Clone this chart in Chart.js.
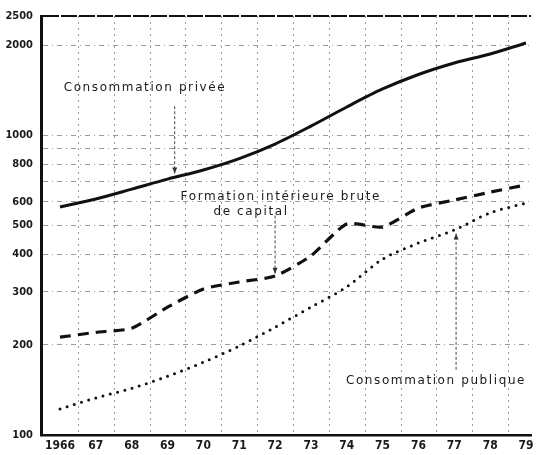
<!DOCTYPE html>
<html><head><meta charset="utf-8">
<script src="https://cdn.jsdelivr.net/npm/chart.js@4/dist/chart.umd.min.js"></script>
<style>html,body{margin:0;padding:0;background:#fff}#wrap{width:541px;height:455px}</style>
</head><body><div id="wrap"><canvas id="c" width="541" height="455"></canvas></div>
<script>
// ---- data ----
const years = [1966,1967,1968,1969,1970,1971,1972,1973,1974,1975,1976,1977,1978,1979];
const yearLabels = ['1966','67','68','69','70','71','72','73','74','75','76','77','78','79'];
const privee = [576,613,661,714,766,836,935,1073,1243,1427,1595,1742,1867,2032];
const formation = [212,220,227,267,307,324,339,396,506,494,572,608,646,683];
const publique = [122,133,143,157,175,198,229,267,312,386,437,483,551,594];
const yTickValues = [100,200,300,400,500,600,700,800,900,1000,2000,2500];
const yTickLabels = ['100','200','300','400','500','600','','800','','1000','2000','2500'];
const xGridValues = [1966.5,1967.5,1968.5,1969.5,1970.5,1971.5,1972.5,1973.5,1974.5,1975.5,1976.5,1977.5,1978.5];
const seriesNames = ['Consommation privée','Formation intérieure brute de capital','Consommation publique'];
// annotation texts anchored in data coordinates [year, value]
const notes = [
  {text:'Consommation privée', at:[1968.37,1437]},
  {text:'Formation intérieure brute', at:[1972.16,622]},
  {text:'de capital', at:[1971.33,554]},
  {text:'Consommation publique', at:[1976.49,151]}
];
// arrows: from [year,value] to [year,value]
const arrows = [
  {from:[1969.2,1250], to:[1969.2,745]},
  {from:[1972.0,540], to:[1972.0,345]},
  {from:[1977.05,165], to:[1977.05,470]}
];

const pts = arr => arr.map((v,i)=>({x:years[i], y:v}));

const decor = {
  id:'decor',
  beforeDatasetsDraw(chart){
    const {ctx, chartArea:a, scales:{x}} = chart;
    ctx.save();
    ctx.strokeStyle = '#9a9a9a';
    ctx.lineWidth = 1;
    ctx.setLineDash([2,4]);
    xGridValues.forEach(v=>{
      const px = Math.round(x.getPixelForValue(v))+0.5;
      ctx.beginPath(); ctx.moveTo(px,a.top); ctx.lineTo(px,a.bottom); ctx.stroke();
    });
    ctx.restore();
  },
  afterDatasetsDraw(chart){
    const {ctx, scales:{x,y}} = chart;
    ctx.save();
    ctx.fillStyle = '#1a1a1a';
    ctx.font = '12px "DejaVu Sans"';
    try{ ctx.letterSpacing = '1.6px'; }catch(e){}
    ctx.textAlign = 'center';
    ctx.textBaseline = 'middle';
    notes.forEach(n=>{
      ctx.fillText(n.text, x.getPixelForValue(n.at[0]), y.getPixelForValue(n.at[1]));
    });
    ctx.strokeStyle = '#444';
    ctx.fillStyle = '#333';
    ctx.lineWidth = 1;
    ctx.setLineDash([3,2]);
    arrows.forEach(ar=>{
      const x1 = x.getPixelForValue(ar.from[0]), y1 = y.getPixelForValue(ar.from[1]);
      const x2 = x.getPixelForValue(ar.to[0]), y2 = y.getPixelForValue(ar.to[1]);
      ctx.beginPath(); ctx.moveTo(x1,y1); ctx.lineTo(x2,y2); ctx.stroke();
      const dir = Math.sign(y2-y1);
      ctx.beginPath();
      ctx.moveTo(x2,y2); ctx.lineTo(x2-2.5,y2-dir*6); ctx.lineTo(x2+2.5,y2-dir*6); ctx.closePath(); ctx.fill();
    });
    ctx.restore();
  }
};

new Chart(document.getElementById('c'), {
  type:'line',
  data:{datasets:[
    {label:seriesNames[0], data:pts(privee), borderColor:'#111', borderWidth:3, tension:0.3, pointRadius:0, fill:false},
    {label:seriesNames[1], data:pts(formation), borderColor:'#111', borderWidth:3.2, borderDash:[11,7], borderCapStyle:'butt', tension:0.2, pointRadius:0, fill:false,
      segment:{borderDash:()=>[11,7]}},
    {label:seriesNames[2], data:pts(publique), borderColor:'#111', borderWidth:3, borderDash:[0,7.5], borderCapStyle:'round', tension:0.3, pointRadius:0, fill:false}
  ]},
  options:{
    responsive:false, animation:false, devicePixelRatio:1,
    layout:{padding:{top:16,right:10,left:0,bottom:0}},
    plugins:{legend:{display:false}, tooltip:{enabled:false}},
    scales:{
      x:{type:'linear', min:1965.47, max:1979.14,
        afterBuildTicks(s){ s.ticks = years.map(v=>({value:v})); },
        afterFit(s){ s.height = 20; },
        grid:{display:false, drawTicks:false},
        border:{display:true, color:'#111', width:2.5},
        ticks:{autoSkip:false, maxRotation:0, padding:4, color:'#1a1a1a',
          font:{family:'"DejaVu Sans Condensed","DejaVu Sans"', size:12, weight:'bold'},
          callback:(v)=>{ const i = years.indexOf(v); return i>=0 ? yearLabels[i] : ''; }}
      },
      y:{type:'logarithmic', min:100, max:2500,
        afterBuildTicks(s){ s.ticks = yTickValues.map(v=>({value:v})); },
        afterFit(s){ s.width = 41; },
        grid:{drawTicks:false,
          color:(c)=> c.tick && c.tick.value===2500 ? '#111' : (c.tick && c.tick.value===100 ? 'rgba(0,0,0,0)' : '#9a9a9a'),
          lineWidth:(c)=> c.tick && c.tick.value===2500 ? 2 : 1},
        border:{display:true, color:'#111', width:3,
          dash:(c)=> c.tick && c.tick.value===2500 ? [16,2] : [5,4,1,4]},
        ticks:{padding:8, color:'#1a1a1a',
          font:{family:'"DejaVu Sans Condensed","DejaVu Sans"', size:11, weight:'bold'},
          callback:(v)=>{ const i = yTickValues.indexOf(v); return i>=0 ? yTickLabels[i] : ''; }}
      }
    }
  },
  plugins:[decor]
});
</script>
</body></html>
